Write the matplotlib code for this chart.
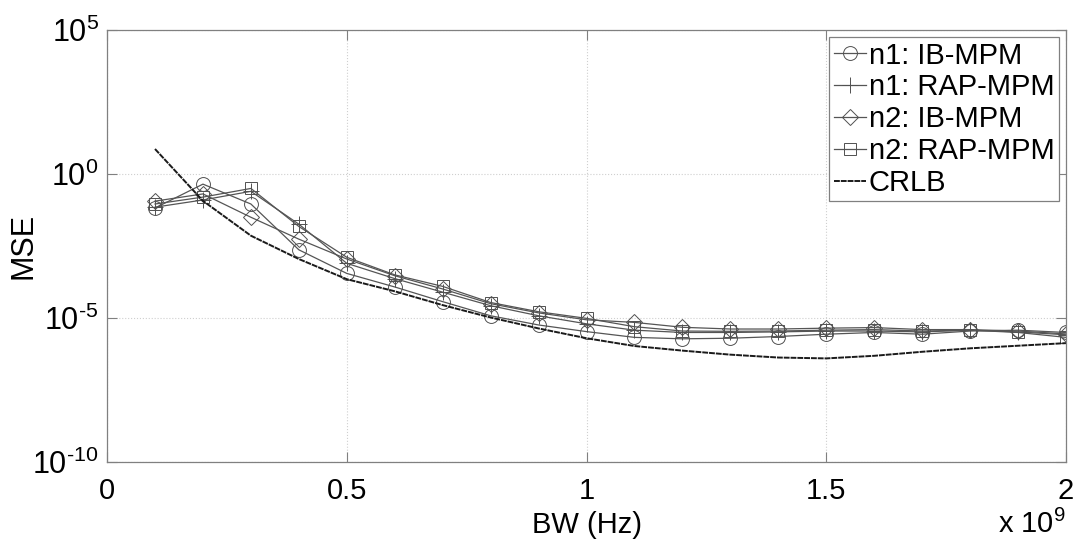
import numpy as np
import matplotlib
matplotlib.use("Agg")
import matplotlib.pyplot as plt
from matplotlib.ticker import FixedLocator, FuncFormatter, NullLocator

plt.rcParams['font.family'] = ['Liberation Sans', 'DejaVu Sans']
plt.rcParams['mathtext.fontset'] = 'custom'
plt.rcParams['mathtext.rm'] = 'Liberation Sans'
plt.rcParams['mathtext.it'] = 'Liberation Sans'

# Bandwidth in GHz (axis is in Hz with x 10^9 multiplier)
bw_ghz = [0.1, 0.2, 0.3, 0.4, 0.5, 0.6, 0.7, 0.8, 0.9, 1.0,
          1.1, 1.2, 1.3, 1.4, 1.5, 1.6, 1.7, 1.8, 1.9, 2.0]

# log10(MSE)
n1_ib_log10 = [-1.18, -0.35, -1.04, -2.63, -3.45, -3.92, -4.43, -4.92, -5.24, -5.47,
               -5.67, -5.72, -5.70, -5.64, -5.56, -5.50, -5.56, -5.45, -5.42, -5.50]
n1_rap_log10 = [-1.15, -0.90, -0.60, -1.74, -3.10, -3.63, -4.10, -4.57, -4.92, -5.20,
                -5.42, -5.50, -5.50, -5.48, -5.45, -5.45, -5.48, -5.42, -5.48, -5.58]
n2_ib_log10 = [-0.94, -0.69, -1.50, -2.26, -2.95, -3.53, -3.99, -4.50, -4.82, -5.06,
               -5.15, -5.32, -5.38, -5.38, -5.35, -5.33, -5.40, -5.40, -5.45, -5.55]
n2_rap_log10 = [-1.04, -0.80, -0.50, -1.82, -2.89, -3.50, -3.90, -4.46, -4.78, -5.01,
                -5.30, -5.45, -5.46, -5.45, -5.42, -5.40, -5.45, -5.42, -5.50, -5.67]
crlb_log10 = [0.87, -0.93, -2.14, -2.95, -3.65, -4.07, -4.55, -4.98, -5.36, -5.70,
              -5.97, -6.13, -6.27, -6.37, -6.40, -6.31, -6.17, -6.05, -5.96, -5.87]

labels = ['n1: IB-MPM', 'n1: RAP-MPM', 'n2: IB-MPM', 'n2: RAP-MPM', 'CRLB']
xtick_vals = [0, 0.5, 1, 1.5, 2]
ytick_exps = [-10, -5, 0, 5]

x = np.array(bw_ghz) * 1e9

fig = plt.figure(figsize=(10.77, 5.43), dpi=100)
ax = fig.add_axes([0.0994, 0.149, 0.8904, 0.7957])

lc = '#555555'
mc = '#505050'
series = [(n1_ib_log10, 'o', 10), (n1_rap_log10, '+', 11),
          (n2_ib_log10, 'D', 8), (n2_rap_log10, 's', 8.5)]
for (vals, mk, ms), lab in zip(series, labels[:4]):
    ax.plot(x, 10.0 ** np.array(vals), color=lc, lw=0.9, marker=mk, ms=ms,
            mfc='none', mec=mc, mew=0.7, label=lab)
ax.plot(x, 10.0 ** np.array(crlb_log10), color='#1a1a1a', lw=1.4,
        linestyle=(0, (3, 0.5)), label=labels[4])


def ylab(v, p):
    e = int(round(np.log10(v)))
    s = str(e).replace('-', '\u2010')
    return r'$10^{\mathrm{%s}}$' % s


ax.set_yscale('log')
ax.set_xlim(0, 2e9)
ax.set_ylim(1e-10, 1e5)
ax.xaxis.set_major_locator(FixedLocator([v * 1e9 for v in xtick_vals]))
ax.xaxis.set_major_formatter(FuncFormatter(lambda v, p: ('%g' % (v / 1e9))))
ax.yaxis.set_major_locator(FixedLocator([10.0 ** e for e in ytick_exps]))
ax.yaxis.set_major_formatter(FuncFormatter(ylab))
ax.yaxis.set_minor_locator(NullLocator())
ax.xaxis.set_minor_locator(NullLocator())

ax.tick_params(direction='in', length=7, width=0.8, color='#808080',
               top=True, right=True)
ax.tick_params(axis='x', labelsize=21, pad=11)
ax.tick_params(axis='y', labelsize=22, pad=6)
for s in ax.spines.values():
    s.set_color('#808080')
    s.set_linewidth(0.9)
ax.grid(True, which='major', linestyle=':', color='#cfcfcf', lw=0.8)

ax.set_xlabel('BW (Hz)', fontsize=21, labelpad=4)
ax.set_ylabel('MSE', fontsize=22)
ax.yaxis.set_label_coords(-0.072, 0.5)
fig.text(0.958, 0.008, r'x 10$^9$', fontsize=21, ha='center', va='bottom')

leg = ax.legend(loc='upper right', fontsize=21, handlelength=1.1, handletextpad=0.1,
                borderpad=0.15, labelspacing=0.13, borderaxespad=0.25,
                fancybox=False, framealpha=1, edgecolor='#808080')
leg.get_frame().set_linewidth(0.9)

fig.savefig('out.png', dpi=100)
